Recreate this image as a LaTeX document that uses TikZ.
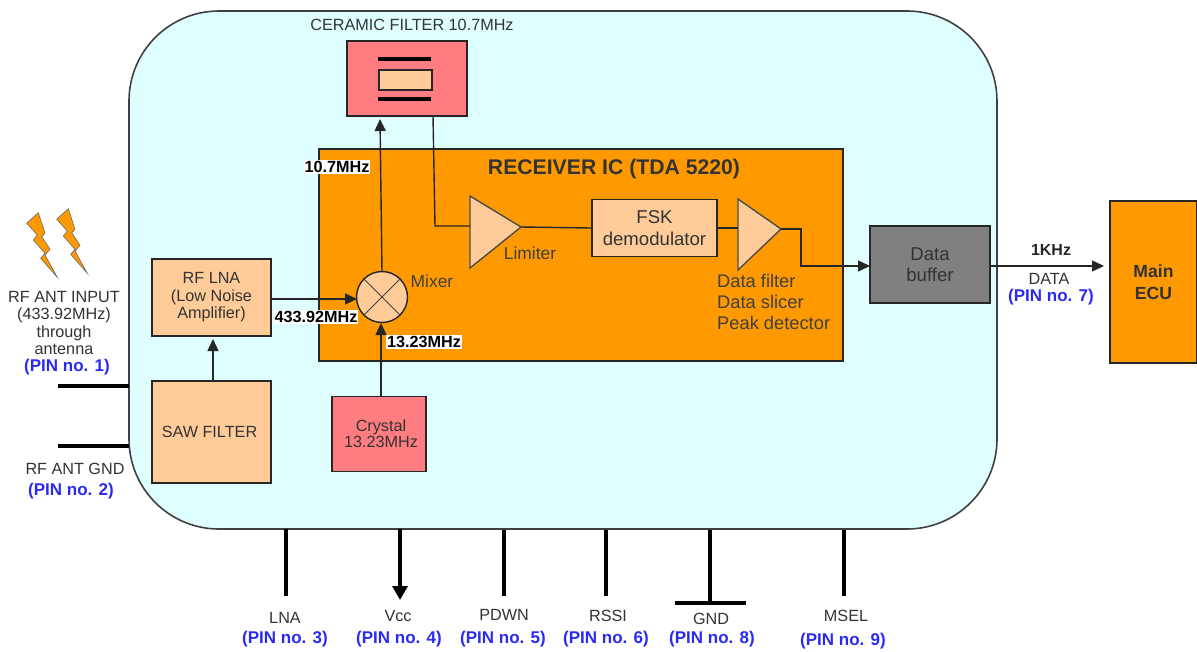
\documentclass[tikz,border=0pt]{standalone}
\usepackage{fontspec}
\setmainfont{Liberation Sans}
\usetikzlibrary{arrows.meta}
\definecolor{panel}{HTML}{DFFFFF}
\definecolor{ic}{HTML}{FF9900}
\definecolor{peach}{HTML}{FFCC99}
\definecolor{rose}{HTML}{FF7C80}
\definecolor{pinblue}{HTML}{2A2AF0}
\definecolor{txt}{HTML}{333333}
\tikzset{
  x=1pt,y=-1pt,
  box/.style={draw=black!85,line width=1.4pt,fill=#1,inner sep=0pt,align=center,text=txt,font=\fontsize{16.2}{17}\selectfont},
  wire/.style={draw=black!85,line width=1.4pt},
  arrow/.style={wire,-{Triangle[length=12pt,width=11pt]}},
  pinline/.style={draw=black,line width=4pt},
  lbl/.style={inner sep=0pt,align=center,text=txt,font=\fontsize{16.2}{17.3}\selectfont},
  pin/.style={inner sep=0pt,text=pinblue,font=\fontsize{17}{19}\selectfont\bfseries},
  freq/.style={fill=white,inner sep=1pt,text=black,font=\fontsize{16.2}{17}\selectfont\bfseries},
  tri/.style={draw=black!70,line width=1.4pt,fill=peach},
  boltshape/.style={draw=black!60,line width=0.6pt,fill=ic}
}
\newcommand{\boltat}[2]{\filldraw[boltshape,shift={(#1,#2)}] (26.7,33.3)--(38.3,22.7)--(45,43.3)--(41.7,46.7)--(50,59.3)--(45,65)--(57.3,87.3)--(40.7,68.3)--(45,63.3)--(33.3,50)--(37.3,45)--cycle;}
\begin{document}
\begin{tikzpicture}
\useasboundingbox (0,0) rectangle (1197,651);
% panel
\path[draw=black!75,line width=1.6pt,fill=panel,rounded corners=90pt] (129,11) rectangle (997,529);
% lightning
\boltat{0}{190}
\boltat{30}{186}
% IC
\node[draw=black!85,line width=1.4pt,fill=ic,minimum width=524pt,minimum height=212pt,inner sep=0pt] (ic) at (581,255) {};
\node[inner sep=0pt,text=black!80,font=\fontsize{21.2}{23}\selectfont\bfseries] (ictitle) at (614,169) {RECEIVER IC (TDA 5220)};
% ceramic
\node[box=rose,minimum width=120pt,minimum height=75pt] (cer) at (407,78.5) {};
\node[draw=black!85,line width=1.4pt,fill=peach,minimum width=53pt,minimum height=20pt,inner sep=0pt] (res) at (405.5,80) {};
\coordinate (pa1) at (378,59); \coordinate (pa2) at (431,59);
\coordinate (pb1) at (378,99); \coordinate (pb2) at (431,99);
\draw[draw=black,line width=3.2pt] (pa1)--(pa2);
\draw[draw=black,line width=3.2pt] (pb1)--(pb2);
\node[lbl] (certxt) at (412,25) {CERAMIC FILTER 10.7MHz};
% blocks
\node[box=peach,minimum width=119pt,minimum height=77pt,font=\fontsize{16.2}{17.5}\selectfont] (lna) at (211.5,297.5) {RF LNA\\(Low Noise\\Amplifier)};
\node[box=peach,minimum width=119pt,minimum height=102pt] (saw) at (211.5,432) {SAW FILTER\hspace*{4pt}};
\node[box=rose,minimum width=94pt,minimum height=75pt,font=\fontsize{16.2}{16}\selectfont] (xtal) at (379,434) {\hspace*{4pt}Crystal\\\hspace*{4pt}13.23MHz};
\node[circle,draw=black!85,line width=1.4pt,fill=peach,minimum size=51pt,inner sep=0pt] (mix) at (382,297) {};
\draw[black!75,line width=1pt] (mix.45)--(mix.225) (mix.135)--(mix.315);
\node[box=peach,minimum width=125pt,minimum height=57pt,font=\fontsize{18.6}{22}\selectfont] (fsk) at (654.5,228) {FSK\\demodulator};
\node[box={black!50},minimum width=120pt,minimum height=77pt,font=\fontsize{18.6}{21}\selectfont] (buf) at (930,264.5) {Data\\buffer};
\node[box=ic,minimum width=87pt,minimum height=162pt,font=\fontsize{17.6}{22}\selectfont\bfseries] (ecu) at (1153.5,282) {Main\\ECU};
% triangles
\coordinate (lima) at (470,196); \coordinate (limb) at (470,268); \coordinate (limo) at (521,227); \coordinate (limi) at (470,226);
\draw[tri] (lima)--(limb)--(limo)--cycle;
\coordinate (dfa) at (738,199); \coordinate (dfb) at (738,270); \coordinate (dfo) at (781,229); \coordinate (dfi) at (738,228);
\draw[tri] (dfa)--(dfb)--(dfo)--cycle;
% connectors
\coordinate (cerin) at (380,119);
\coordinate (cerout) at (433,116);
\coordinate (corner1) at (435,226);
\coordinate (corner2) at (801,229);
\coordinate (corner3) at (801,266);
\coordinate (bufin) at (870,266);
\coordinate (bufout) at (990,266);
\coordinate (ecuin) at (1104,266);
\coordinate (mixt) at (382,272);
\coordinate (mixb) at (381,323);
\coordinate (mixl) at (357,299);
\coordinate (lnao) at (271,299);
\coordinate (lnab) at (213,339);
\coordinate (sawt) at (213,381);
\coordinate (xtalt) at (381,397);
\draw[arrow] (mixt)--(cerin);
\draw[wire] (cerout)--(corner1)--(limi);
\draw[wire] (limo)--(fsk.west);
\draw[wire] (fsk.east)--(dfi);
\draw[arrow] (dfo)--(corner2)--(corner3)--(bufin);
\draw[arrow] (bufout)--(ecuin);
\draw[arrow] (lnao)--(mixl);
\draw[arrow] (sawt)--(lnab);
\draw[arrow] (xtalt)--(mixb);
% freq labels
\node[freq] (f1) at (337,167) {10.7MHz};
\node[freq] (f2) at (316,317) {433.92MHz};
\node[freq] (f3) at (424,342) {13.23MHz};
% IC labels
\node[lbl,text=black!75,font=\fontsize{17.4}{19}\selectfont] (mixlbl) at (432,281) {Mixer};
\node[lbl,text=black!75,font=\fontsize{17.4}{19}\selectfont] (limlbl) at (530,253) {Limiter};
\node[lbl,text=black!75,align=left,anchor=north west,font=\fontsize{18.3}{21}\selectfont] (dflbl) at (717,274) {Data filter\\Data slicer\\Peak detector};
% left
\node[lbl] (ant) at (64,323) {RF ANT INPUT\\(433.92MHz)\\through\\antenna};
\node[pin] (p1) at (67,367) {(PIN no. 1)};
\node[lbl] (gnd) at (75,469) {RF ANT GND};
\node[pin] (p2) at (71,491) {(PIN no. 2)};
\coordinate (l1a) at (58,386); \coordinate (l1b) at (129,386);
\coordinate (l2a) at (58,446); \coordinate (l2b) at (129,446);
\draw[pinline] (l1a)--(l1b);
\draw[pinline] (l2a)--(l2b);
% right
\node[inner sep=0pt,text=black!85,font=\fontsize{16}{18}\selectfont\bfseries] (khz) at (1051,250) {1KHz};
\node[lbl] (data) at (1049,279) {DATA};
\node[pin] (p7) at (1051,297) {(PIN no. 7)};
% bottom pins
\coordinate (b3a) at (286,529); \coordinate (b3b) at (286,596);
\coordinate (b4a) at (400,529); \coordinate (b4b) at (400,600);
\coordinate (b5a) at (504,530); \coordinate (b5b) at (504,596);
\coordinate (b6a) at (606,530); \coordinate (b6b) at (606,596);
\coordinate (b8a) at (710,530); \coordinate (b8b) at (710,603);
\coordinate (g1) at (675,603); \coordinate (g2) at (746,603);
\coordinate (b9a) at (844,530); \coordinate (b9b) at (844,596);
\draw[pinline] (b3a)--(b3b);
\draw[pinline,-{Triangle[length=14pt,width=15pt]}] (b4a)--(b4b);
\draw[pinline] (b5a)--(b5b);
\draw[pinline] (b6a)--(b6b);
\draw[pinline] (b8a)--(b8b);
\draw[pinline] (g1)--(g2);
\draw[pinline] (b9a)--(b9b);
\node[lbl] (t3) at (285,618) {LNA};
\node[pin] (p3) at (285,639) {(PIN no. 3)};
\node[lbl] (t4) at (398,616) {Vcc};
\node[pin] (p4) at (399,639) {(PIN no. 4)};
\node[lbl] (t5) at (504,615) {PDWN};
\node[pin] (p5) at (503,639) {(PIN no. 5)};
\node[lbl] (t6) at (608,616) {RSSI};
\node[pin] (p6) at (606,639) {(PIN no. 6)};
\node[lbl] (t8) at (711,619) {GND};
\node[pin] (p8) at (712,639) {(PIN no. 8)};
\node[lbl] (t9) at (846,616) {MSEL};
\node[pin] (p9) at (843,641) {(PIN no. 9)};
\end{tikzpicture}
\end{document}
